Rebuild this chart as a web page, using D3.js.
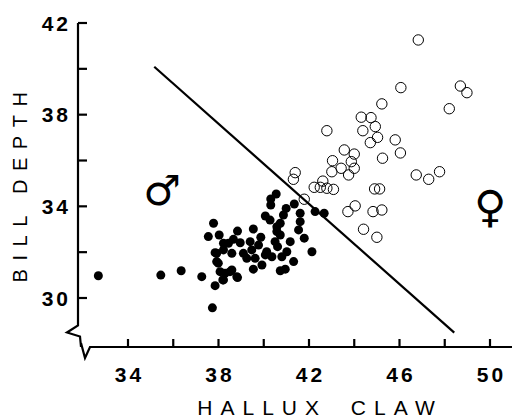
<!DOCTYPE html>
<html><head><meta charset="utf-8">
<script src="https://cdn.jsdelivr.net/npm/d3@7"></script>
<style>body{margin:0;background:#fff}svg{display:block}</style>
</head><body>
<svg id="c" width="512" height="420"></svg>
<script>
// Data
const femaleX = [46.83,46.06,48.69,48.98,48.20,45.81,46.04,46.74,47.29,47.77,45.22,44.31,44.74,44.93,44.38,45.03,44.71,42.79,43.56,44.00,43.87,43.04,44.00,43.42,43.01,43.75,45.25,41.39,41.31,42.23,42.61,42.50,42.79,43.08,44.90,45.12,43.72,44.04,44.83,45.22,44.41,45.00,41.79];
const femaleY = [41.26,39.18,39.25,38.96,38.26,36.90,36.33,35.37,35.18,35.51,38.47,37.89,37.87,37.48,37.30,37.01,36.78,37.30,36.46,36.28,35.95,35.99,35.66,35.66,35.51,35.37,36.10,35.47,35.18,34.83,35.10,34.83,34.79,34.74,34.76,34.76,33.77,34.02,33.77,33.84,33.00,32.65,34.31];
const maleX = [32.69,35.45,36.35,37.26,37.73,37.85,37.78,37.55,38.03,38.84,39.54,37.92,37.99,38.07,38.19,38.51,38.84,40.55,40.31,40.31,40.99,41.35,41.61,42.27,42.67,40.87,40.73,40.07,40.28,41.61,41.54,41.79,42.13,39.87,40.58,40.50,40.61,41.17,41.02,40.80,41.32,40.95,40.73,39.92,39.54,39.62,39.25,39.77,39.47,39.10,40.07,40.36,38.66,38.96,38.44,38.22,38.59,38.22,37.85,37.92,38.29,38.59,38.81,38.22,40.58,40.73,39.40,40.13];
const maleY = [30.97,31.00,31.19,30.93,29.57,30.54,33.26,32.68,32.75,32.92,33.01,31.95,31.52,31.15,30.79,31.15,30.89,34.54,34.32,34.06,33.91,34.10,33.70,33.77,33.70,33.62,33.26,33.58,33.40,33.33,32.97,32.61,32.02,32.65,32.90,32.46,32.24,32.46,32.02,31.80,31.59,31.26,31.19,31.44,31.26,31.73,31.73,32.31,32.10,31.95,31.88,31.80,32.56,32.41,32.39,32.39,31.95,32.10,31.98,31.59,31.08,31.22,30.93,30.79,33.11,32.75,32.46,32.02];
const lineX = [35.16, 48.42];
const lineY = [40.09, 28.49];
const xTicks = [34,36,38,40,42,44,46,48,50];
const xTickLabels = ["34","","38","","42","","46","","50"];
const yTicks = [30,32,34,36,38,40,42];
const yTickLabels = ["30","","34","","38","","42"];
const xTitle = "HALLUX CLAW";
const yTitle = "BILL DEPTH";
const maleSym = "\u2642", femaleSym = "\u2640";

const svg = d3.select("#c");
const x = d3.scaleLinear().domain([34,50]).range([128,490]);
const y = d3.scaleLinear().domain([30,42]).range([298,23]);
const ax = 78, ay = 347;

// y axis with break
const yBottom = y(28.8);
svg.append("path")
  .attr("d", `M${ax},${y(42)}L${ax},${yBottom}L${ax-11},${yBottom+7}L${ax+2},${yBottom+11}L${ax+3},${ay}`)
  .attr("fill","none").attr("stroke","#000").attr("stroke-width",2.2).attr("stroke-linejoin","miter");
// x axis with break
svg.append("path")
  .attr("d", `M${ax+3},${ay-4}L${ax+7},${ay+11}L${ax+12},${ay}L${512},${ay}`)
  .attr("fill","none").attr("stroke","#000").attr("stroke-width",2.2);

// y ticks (inward)
svg.selectAll(".yt").data(yTicks).join("line")
  .attr("x1",ax).attr("x2",ax+9).attr("y1",d=>y(d)).attr("y2",d=>y(d))
  .attr("stroke","#000").attr("stroke-width",2.2);
svg.selectAll(".yl").data(yTicks).join("text")
  .attr("x",71).attr("y",d=>y(d)).attr("dy","0.36em")
  .attr("text-anchor","end")
  .style("font-family","'Liberation Sans', Arial, sans-serif").style("font-weight","bold")
  .style("font-size","21px").style("letter-spacing","3px")
  .text((d,i)=>yTickLabels[i]);

// x ticks (inward)
svg.selectAll(".xt").data(xTicks).join("line")
  .attr("x1",d=>x(d)).attr("x2",d=>x(d)).attr("y1",ay).attr("y2",ay-8)
  .attr("stroke","#000").attr("stroke-width",2.2);
svg.selectAll(".xl").data(xTicks).join("text")
  .attr("x",d=>x(d)+1.5).attr("y",382)
  .attr("text-anchor","middle")
  .style("font-family","'Liberation Sans', Arial, sans-serif").style("font-weight","bold")
  .style("font-size","21px").style("letter-spacing","3px")
  .text((d,i)=>xTickLabels[i]);

// titles
svg.append("text").attr("x",320).attr("y",415).attr("text-anchor","middle")
  .style("font-family","'Liberation Sans', Arial, sans-serif").style("font-size","21px")
  .style("letter-spacing","8px").style("word-spacing","10px").text(xTitle);
svg.append("text").attr("transform","translate(27,183) rotate(-90)").attr("text-anchor","middle")
  .style("font-family","'Liberation Sans', Arial, sans-serif").style("font-size","20px")
  .style("letter-spacing","8.5px").text(yTitle);

// separating line
svg.append("line")
  .attr("x1",x(lineX[0])).attr("y1",y(lineY[0])).attr("x2",x(lineX[1])).attr("y2",y(lineY[1]))
  .attr("stroke","#000").attr("stroke-width",2.2);

// female open circles
svg.selectAll(".f").data(femaleX).join("circle")
  .attr("cx",d=>x(d)).attr("cy",(d,i)=>y(femaleY[i])).attr("r",5.2)
  .attr("fill","none").attr("stroke","#000").attr("stroke-width",1);
// male filled
svg.selectAll(".m").data(maleX).join("circle")
  .attr("cx",d=>x(d)).attr("cy",(d,i)=>y(maleY[i])).attr("r",4.5)
  .attr("fill","#000");

// sex symbols
svg.append("text").attr("x",162).attr("y",205).attr("text-anchor","middle")
  .style("font-family","'DejaVu Sans', sans-serif").style("font-size","42px").text(maleSym);
svg.append("text").attr("x",490).attr("y",222).attr("text-anchor","middle")
  .style("font-family","'DejaVu Sans', sans-serif").style("font-size","44px").style("font-weight","bold").text(femaleSym);
</script>
</body></html>
